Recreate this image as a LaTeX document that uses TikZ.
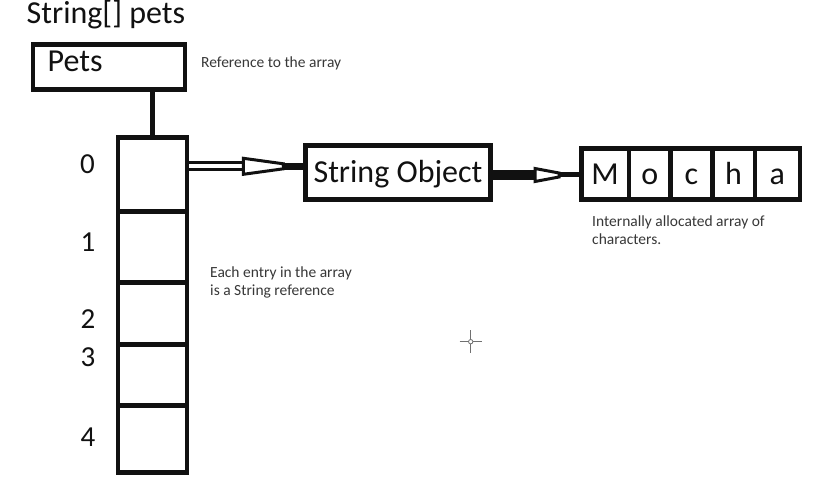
\documentclass[tikz,border=0pt]{standalone}
\usepackage{fontspec}
\setmainfont{Carlito}
\usetikzlibrary{calc}
\definecolor{ink}{HTML}{111111}
\definecolor{textgrey}{HTML}{383838}
\definecolor{cursorgrey}{HTML}{707070}
\tikzset{
  thickbox/.style={draw=ink, line width=4.6pt, inner sep=0pt, anchor=north west},
  big/.style={font=\fontsize{32}{38}\selectfont, text=ink, inner sep=0pt},
  digit/.style={font=\fontsize{29}{35}\selectfont, text=ink, inner sep=0pt},
  small/.style={font=\fontsize{15.5}{18.5}\selectfont, text=textgrey, inner sep=0pt, align=left, anchor=base west},
  capcenter/.style={text height=20.2pt, text depth=0pt},
  connector/.style={draw=ink, line width=5.5pt},
  headstyle/.style={draw=ink, fill=white, line width=3pt, line join=miter},
}
\begin{document}
\begin{tikzpicture}[x=1pt, y=-1pt]
\useasboundingbox[fill=white] (0,0) rectangle (815,489);

% title
\node[big, anchor=base west] (title) at (26.5,23.5) {String[] pets};

% Pets reference box
\node[thickbox, minimum width=152pt, minimum height=45pt] (pets) at (30.8,42.5) {};
\node[big, anchor=base west] (petslabel) at (47.5,72) {Pets};
\node[small] (refnote) at (201,67.5) {Reference to the array};

% array cells
\node[thickbox, minimum width=69pt, minimum height=74pt]   (cell0) at (115.5,135.5) {};
\node[thickbox, minimum width=69pt, minimum height=70.5pt] (cell1) at (115.5,209.5) {};
\node[thickbox, minimum width=69pt, minimum height=62pt]   (cell2) at (115.5,280) {};
\node[thickbox, minimum width=69pt, minimum height=61pt]   (cell3) at (115.5,342) {};
\node[thickbox, minimum width=69pt, minimum height=67pt]   (cell4) at (115.5,403) {};

% indices
\node[digit] (i0) at (87.5,164) {0};
\node[digit] (i1) at (88,242) {1};
\node[digit] (i2) at (88,319) {2};
\node[digit] (i3) at (88,357) {3};
\node[digit] (i4) at (88,437) {4};

% base anchor of a two-line node is the baseline of its last line
\node[small] (entrynote) at (210,296) {Each entry in the array\\is a String reference};

% reference line
\draw[connector] (cell0.north |- pets.south) -- (cell0.north);

% String object
\node[draw=ink, line width=4.6pt, inner sep=0pt, minimum width=184.7pt, minimum height=54pt,
      big, capcenter] (strobj) at (398,172.8) {String Object};

% Mocha char array
\node[thickbox, minimum width=47.7pt, minimum height=51pt, big, capcenter] (m1) at (579,146.5) {M};
\node[thickbox, minimum width=41.6pt, minimum height=51pt, big, capcenter] (m2) at (626.7,146.5) {o};
\node[thickbox, minimum width=41.7pt, minimum height=51pt, big, capcenter] (m3) at (668.3,146.5) {c};
\node[thickbox, minimum width=42.7pt, minimum height=51pt, big, capcenter] (m4) at (710,146.5) {h};
\node[thickbox, minimum width=44.8pt, minimum height=51pt, big, capcenter] (m5) at (752.7,146.5) {a};

\node[small] (charnote) at (592,245) {Internally allocated array of\\characters.};

% arrow 1: cell 0 -> String Object (hollow double arrow)
\coordinate (a1e) at ($(strobj.west)+(0,-6.5)$);
\coordinate (a1s) at (cell0.east |- a1e);
\draw[draw=ink, line width=3.2pt, double=white, double distance=4pt] (a1s) -- ($(a1e)+(-58,0)$);
\draw[draw=ink, line width=7pt] ($(a1e)+(-26,0)$) -- (a1e);
\filldraw[headstyle] ($(a1e)+(-60,-8)$) -- ($(a1e)+(-20,-2.5)$) -- ($(a1e)+(-20,2.5)$) -- ($(a1e)+(-60,8)$) -- cycle;

% arrow 2: String Object -> Mocha
\coordinate (a2e) at (m1.west |- 0,175);
\coordinate (a2s) at (strobj.east |- a2e);
\draw[draw=ink, line width=10pt] (a2s) -- ($(a2e)+(-43,0)$);
\draw[draw=ink, line width=5pt] ($(a2e)+(-22,0)$) -- (a2e);
\filldraw[headstyle] ($(a2e)+(-44,-6.5)$) -- ($(a2e)+(-20,-2)$) -- ($(a2e)+(-20,2)$) -- ($(a2e)+(-44,6.5)$) -- cycle;

% mouse cursor crosshair
\coordinate (cur) at (470.7,341.7);
\draw[cursorgrey, line width=1.2pt] ($(cur)+(-11,0)$) -- ($(cur)+(11,0)$);
\draw[cursorgrey, line width=1.2pt] ($(cur)+(0,-11.5)$) -- ($(cur)+(0,11.5)$);
\filldraw[draw=cursorgrey, fill=white, line width=0.8pt] (cur) circle (2.2pt);
\end{tikzpicture}
\end{document}
